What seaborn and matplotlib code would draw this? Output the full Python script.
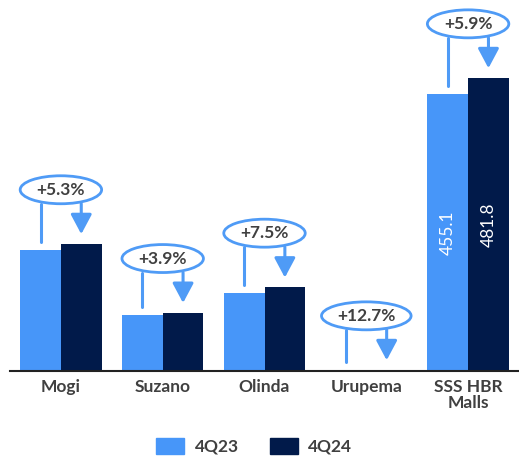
import pandas as pd
import matplotlib.pyplot as plt
import seaborn as sns
from matplotlib.patches import Ellipse

sns.set_theme(style="white")
plt.rcParams['font.family'] = ['Lato', 'DejaVu Sans']

malls = ['Mogi', 'Suzano', 'Olinda', 'Urupema', 'SSS HBR\nMalls']
q23 = [198.5, 92.3, 128.0, 1.5, 455.1]
q24 = [209.0, 95.9, 137.6, 1.7, 481.8]
growth = ['+5.3%', '+3.9%', '+7.5%', '+12.7%', '+5.9%']
periods = ['4Q23', '4Q24']

df = pd.DataFrame({
    'Mall': malls * 2,
    'Period': [periods[0]] * len(malls) + [periods[1]] * len(malls),
    'Value': q23 + q24,
})

light = '#4796F9'
dark = '#011A4A'
line_c = '#4F9BF6'
txt_c = '#404040'

fig = plt.figure(figsize=(5.19, 4.59), dpi=100)
ax = fig.add_axes([10 / 519, 88 / 459, 509 / 519, 371 / 459])

sns.barplot(data=df, x='Mall', y='Value', hue='Period', palette=[light, dark],
            width=0.8, linewidth=0, saturation=1, ax=ax, legend=False)

ax.set_xlim(-0.5, 4.5)
ax.set_ylim(0, 610)

# growth bubbles with connector line and arrow
for i, (a, b, g) in enumerate(zip(q23, q24, growth)):
    cy = max(a, b) + 89
    w = 0.8 + 0.08 * (len(g) - 5)
    ax.add_patch(Ellipse((i, cy), w, 46, fill=False, edgecolor=line_c, lw=2, zorder=5))
    ax.text(i, cy, g, ha='center', va='center', fontsize=12.5, fontweight='bold',
            color=txt_c, zorder=6)
    ax.plot([i - 0.2, i - 0.2], [cy - 23, a + 13], color=line_c, lw=2.2, zorder=4)
    ax.annotate('', xy=(i + 0.2, b + 16), xytext=(i + 0.2, cy - 23),
                arrowprops=dict(arrowstyle='-|>,head_length=0.75,head_width=0.4',
                                color=line_c, lw=2.2, mutation_scale=16,
                                shrinkA=0, shrinkB=0), zorder=4)

# value labels on the SSS bars
for dx, v in zip([-0.2, 0.2], [q23[-1], q24[-1]]):
    ax.text(4 + dx, v / 2, f'{v:.1f}', rotation=90, ha='center', va='center',
            color='white', fontsize=12.5)

ax.set_xlabel('')
ax.set_ylabel('')
ax.set_yticks([])
for s in ['top', 'right', 'left']:
    ax.spines[s].set_visible(False)
ax.spines['bottom'].set_color('#222222')
ax.spines['bottom'].set_linewidth(1.5)
ax.tick_params(axis='x', length=0, pad=6)
for lab in ax.get_xticklabels():
    lab.set_fontweight('bold')
    lab.set_fontsize(12.5)
    lab.set_color(txt_c)
    lab.set_linespacing(0.95)

handles = [plt.Rectangle((0, 0), 1, 1, color=c) for c in [light, dark]]
fig.legend(handles, periods, loc='lower center', bbox_to_anchor=(0.49, -0.025), ncol=2,
           frameon=False, handlelength=1.6, handleheight=1.05, handletextpad=0.6,
           columnspacing=1.8, prop={'weight': 'bold', 'size': 12.5}, labelcolor=txt_c)

fig.savefig('out.png', dpi=100)
